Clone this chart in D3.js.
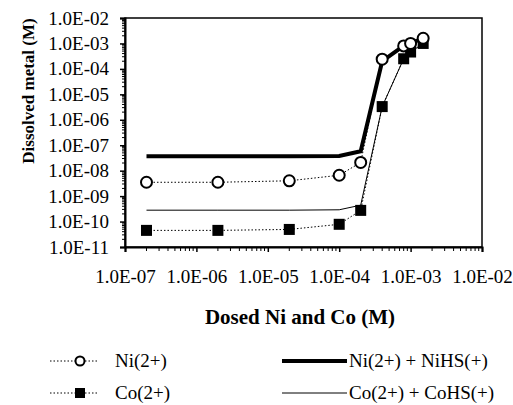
<!DOCTYPE html>
<html>
<head>
<meta charset="utf-8">
<script src="https://cdn.jsdelivr.net/npm/d3@7"></script>
<style>
  body { margin: 0; background: #fff; }
  text { font-family: "Liberation Serif", "Times New Roman", serif; fill: #000; }
</style>
</head>
<body>
<svg id="chart" width="513" height="405"></svg>
<script>
"use strict";
// dosed metal (M) for every sample
var dosed = [2e-7, 2e-6, 2e-5, 1e-4, 2e-4, 4e-4, 8e-4, 1e-3, 1.5e-3];
// measured points
var niFree = [3.5e-9, 3.5e-9, 4e-9, 6.6e-9, 2.1e-8, 2.4e-4, 8e-4, 1e-3, 1.6e-3];
var coFree = [4.5e-11, 4.5e-11, 4.9e-11, 7.8e-11, 2.75e-10, 3.3e-6, 2.5e-4, 4.6e-4, 1e-3];
// model lines
var niTotal = [3.7e-8, 3.7e-8, 3.7e-8, 3.8e-8, 5.8e-8, 2.0e-4, 8e-4, 1e-3, 1.6e-3];
var coTotal = [2.8e-10, 2.8e-10, 2.8e-10, 2.9e-10, 4.4e-10, 3.3e-6, 2.5e-4, 4.6e-4, 1e-3];

var xTicks = [1e-7, 1e-6, 1e-5, 1e-4, 1e-3, 1e-2];
var yTicks = [1e-11, 1e-10, 1e-9, 1e-8, 1e-7, 1e-6, 1e-5, 1e-4, 1e-3, 1e-2];

var margin = {left: 125, right: 31, top: 18, bottom: 158};
var W = 513, H = 405;
var svg = d3.select("#chart");

var x = d3.scaleLog().domain([1e-7, 1e-2]).range([margin.left, W - margin.right]);
var y = d3.scaleLog().domain([1e-11, 1e-2]).range([H - margin.bottom, margin.top]);

function fmt(v) {
  var e = Math.round(Math.log10(v));
  return "1.0E-" + (Math.abs(e) < 10 ? "0" : "") + Math.abs(e);
}

// minor ticks 2..9 in every decade
function minors(lo, hi) {
  var out = [];
  for (var p = lo; p < hi; p++) {
    for (var m = 2; m <= 9; m++) out.push(m * Math.pow(10, p));
  }
  return out;
}

var yAxis = d3.axisLeft(y).tickValues(yTicks).tickFormat(fmt).tickSize(5).tickPadding(11);
var gy = svg.append("g").attr("transform", "translate(" + margin.left + ",0)").call(yAxis);
gy.attr("font-family", null);
gy.selectAll(".tick text").style("font-size", "19px").style("font-family", "Liberation Serif");
gy.append("g").selectAll("line").data(minors(-11, -2)).enter().append("line")
  .attr("x1", -3).attr("x2", 0)
  .attr("y1", function (d) { return y(d); }).attr("y2", function (d) { return y(d); })
  .attr("stroke", "#000").attr("stroke-width", 1);

var xAxis = d3.axisBottom(x).tickValues(xTicks).tickFormat(fmt).tickSize(5).tickPadding(18);
var gx = svg.append("g").attr("transform", "translate(0," + (H - margin.bottom) + ")").call(xAxis);
gx.attr("font-family", null);
gx.selectAll(".tick text").style("font-size", "19px").style("font-family", "Liberation Serif");
gx.append("g").selectAll("line").data(minors(-7, -2)).enter().append("line")
  .attr("y1", 0).attr("y2", 4)
  .attr("x1", function (d) { return x(d); }).attr("x2", function (d) { return x(d); })
  .attr("stroke", "#000").attr("stroke-width", 1);

svg.selectAll(".domain").attr("stroke-width", 2);
svg.selectAll(".tick line").attr("stroke-width", 1.5);

// plot frame
svg.append("rect")
  .attr("x", margin.left).attr("y", margin.top)
  .attr("width", W - margin.left - margin.right).attr("height", H - margin.top - margin.bottom)
  .attr("fill", "none").attr("stroke", "#000").attr("stroke-width", 1.5);

function pts(vals) {
  return dosed.map(function (d, i) { return [d, vals[i]]; });
}
var line = d3.line().x(function (d) { return x(d[0]); }).y(function (d) { return y(d[1]); });

// dotted connectors
svg.append("path").attr("d", line(pts(niFree))).attr("fill", "none")
  .attr("stroke", "#000").attr("stroke-width", 1).attr("stroke-dasharray", "1.5,2");
svg.append("path").attr("d", line(pts(coFree))).attr("fill", "none")
  .attr("stroke", "#000").attr("stroke-width", 1).attr("stroke-dasharray", "1.5,2");

// model lines
svg.append("path").attr("d", line(pts(niTotal))).attr("fill", "none")
  .attr("stroke", "#000").attr("stroke-width", 4);
svg.append("path").attr("d", line(pts(coTotal))).attr("fill", "none")
  .attr("stroke", "#000").attr("stroke-width", 1);

// markers
svg.append("g").selectAll("rect").data(pts(coFree)).enter().append("rect")
  .attr("x", function (d) { return x(d[0]) - 5.5; })
  .attr("y", function (d) { return y(d[1]) - 5.5; })
  .attr("width", 11).attr("height", 11).attr("fill", "#000");
svg.append("g").selectAll("circle").data(pts(niFree)).enter().append("circle")
  .attr("cx", function (d) { return x(d[0]); })
  .attr("cy", function (d) { return y(d[1]); })
  .attr("r", 5.5).attr("fill", "#fff").attr("stroke", "#000").attr("stroke-width", 2);

// axis titles
svg.append("text").attr("x", 300).attr("y", 324).attr("text-anchor", "middle")
  .style("font-size", "21px").style("font-weight", "bold").text("Dosed Ni and Co (M)");
svg.append("text").attr("transform", "translate(34,91) rotate(-90)").attr("text-anchor", "middle")
  .style("font-size", "17px").style("font-weight", "bold").text("Dissolved metal (M)");

// legend
var leg = svg.append("g");
var rows = [361, 393];
rows.forEach(function (ry, i) {
  leg.append("line").attr("x1", 50).attr("x2", 98).attr("y1", ry).attr("y2", ry)
    .attr("stroke", "#000").attr("stroke-width", 1).attr("stroke-dasharray", "1.5,2");
  if (i === 0) {
    leg.append("circle").attr("cx", 80).attr("cy", ry).attr("r", 4.5)
      .attr("fill", "#fff").attr("stroke", "#000").attr("stroke-width", 2);
  } else {
    leg.append("rect").attr("x", 75).attr("y", ry - 5).attr("width", 10).attr("height", 10).attr("fill", "#000");
  }
  leg.append("text").attr("x", 115).attr("y", ry + 6).style("font-size", "19px")
    .text(i === 0 ? "Ni(2+)" : "Co(2+)");
  leg.append("line").attr("x1", 282).attr("x2", 347).attr("y1", ry).attr("y2", ry)
    .attr("stroke", "#000").attr("stroke-width", i === 0 ? 4 : 1);
  leg.append("text").attr("x", 349).attr("y", ry + 6).style("font-size", "19px")
    .text(i === 0 ? "Ni(2+) + NiHS(+)" : "Co(2+) + CoHS(+)");
});
</script>
</body>
</html>
